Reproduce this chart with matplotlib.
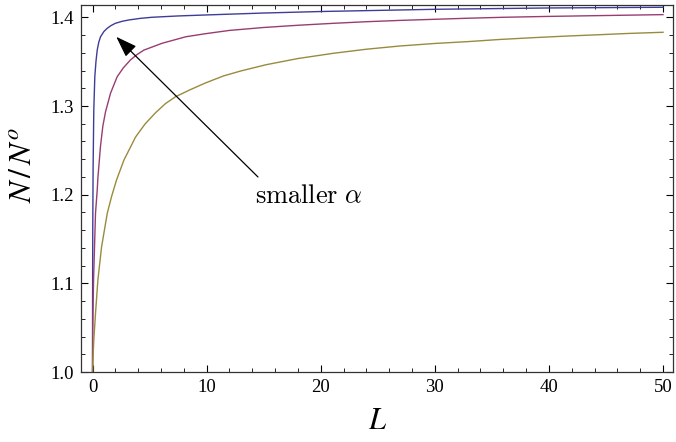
import matplotlib
matplotlib.use("Agg")
import matplotlib.pyplot as plt
from matplotlib.ticker import MultipleLocator, FormatStrFormatter

# curves, one per alpha (largest alpha last)
L_blue = [0.0, 0.005, 0.02, 0.05, 0.11, 0.2, 0.3, 0.41, 0.55, 0.7, 1.0, 1.29,
          1.6, 2.0, 2.6, 3.2, 4.2, 5.2, 7.5, 9.9, 15.0, 20.0, 30.0, 40.0, 50.0]
N_blue = [1.000, 1.080, 1.160, 1.230, 1.295, 1.333, 1.350, 1.363, 1.372, 1.378,
          1.384, 1.3876, 1.3905, 1.3932, 1.3955, 1.397, 1.3988, 1.400, 1.4015,
          1.4026, 1.4048, 1.4065, 1.409, 1.4105, 1.4113]

L_mag = [0.0, 0.02, 0.09, 0.26, 0.41, 0.47, 0.7, 0.9, 1.14, 1.58, 2.16, 2.7,
         3.33, 3.9, 4.5, 6.1, 8.16, 9.9, 12.0, 15.0, 18.0, 21.1, 24.0, 27.0,
         32.8, 36.0, 40.0, 45.0, 50.0]
N_mag = [1.000, 1.050, 1.104, 1.179, 1.205, 1.219, 1.255, 1.277, 1.2935, 1.3145,
         1.333, 1.343, 1.352, 1.358, 1.363, 1.3707, 1.378, 1.3815, 1.3852,
         1.3885, 1.391, 1.3932, 1.395, 1.3965, 1.3989, 1.400, 1.401, 1.402,
         1.403]

L_olive = [0.0, 0.03, 0.11, 0.26, 0.47, 0.79, 1.29, 1.67, 2.1, 2.75, 3.77, 4.6,
           5.53, 6.4, 7.28, 8.5, 9.9, 11.5, 13.0, 15.2, 18.0, 21.1, 24.0, 26.9,
           30.0, 32.8, 35.7, 38.6, 41.5, 44.5, 47.0, 50.0]
N_olive = [1.000, 1.012, 1.036, 1.066, 1.104, 1.141, 1.179, 1.198, 1.2165, 1.239,
           1.265, 1.2797, 1.2925, 1.3028, 1.3105, 1.318, 1.326, 1.334, 1.3395,
           1.3465, 1.3535, 1.3594, 1.364, 1.3676, 1.3705, 1.3725, 1.375, 1.377,
           1.3788, 1.3804, 1.3818, 1.3831]

colors = ["#3d3d99", "#993d71", "#998b3d"]

plt.rcParams["font.family"] = ["Liberation Serif", "DejaVu Serif"]
plt.rcParams["mathtext.fontset"] = "stix"

fig = plt.figure(figsize=(6.76, 4.42), dpi=100)
ax = fig.add_axes([0.120, 0.158, 0.876, 0.831])

for xs, ys, c in zip([L_blue, L_mag, L_olive], [N_blue, N_mag, N_olive], colors):
    ax.plot(xs, ys, color=c, lw=1.0)

ax.set_xlim(-1.0, 50.9)
ax.set_ylim(1.0, 1.414)

ax.xaxis.set_major_locator(MultipleLocator(10))
ax.xaxis.set_minor_locator(MultipleLocator(2))
ax.yaxis.set_major_locator(MultipleLocator(0.1))
ax.yaxis.set_minor_locator(MultipleLocator(0.02))
ax.yaxis.set_major_formatter(FormatStrFormatter("%.1f"))
ax.tick_params(which="both", direction="in", top=True, right=True,
               labelsize=13.5, colors="black")
ax.tick_params(which="major", length=5, width=0.8, pad=5)
ax.tick_params(which="minor", length=3, width=0.6)
for s in ax.spines.values():
    s.set_linewidth(0.9)
    s.set_color("#333333")

ax.set_xlabel(r"$L$", fontsize=22)
ax.xaxis.set_label_coords(0.50, -0.095)
ax.set_ylabel(r"$N\,/\,N^{o}$", fontsize=23)
ax.yaxis.set_label_coords(-0.072, 0.565)

ax.annotate("", xy=(2.08, 1.378), xytext=(14.5, 1.22),
            arrowprops=dict(arrowstyle="-|>,head_length=1.0,head_width=0.35",
                            mutation_scale=13, color="black", lw=0.9,
                            shrinkA=0, shrinkB=0))
ax.text(14.2, 1.1905, r"$\mathrm{smaller}\ \alpha$", fontsize=19,
        math_fontfamily="cm", ha="left", va="baseline")

fig.savefig("out.png", dpi=100)
